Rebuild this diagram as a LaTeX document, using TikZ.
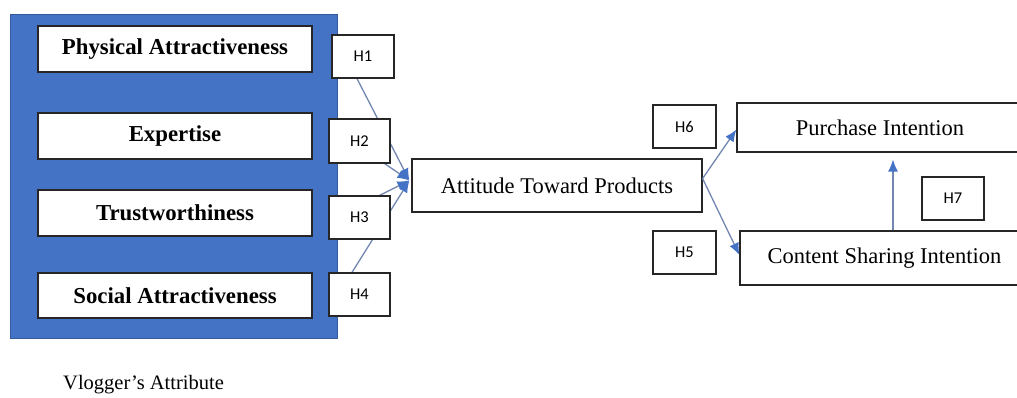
\documentclass[tikz,border=0pt]{standalone}
\usepackage{fontspec}
\setmainfont{Liberation Serif}
\newfontfamily\hfont{Carlito}
\usetikzlibrary{arrows.meta,backgrounds}
\definecolor{vblue}{HTML}{4472C4}
\definecolor{lnk}{HTML}{7186B0}
\begin{document}
\begin{tikzpicture}[x=1pt,y=-1pt,
  attrbox/.style={draw=black!85,line width=1.3pt,fill=white,minimum width=274pt,minimum height=46pt,inner sep=0pt,font=\fontsize{22.8}{24}\selectfont\bfseries},
  hbox/.style={draw=black!85,line width=1.2pt,fill=white,minimum width=61pt,minimum height=43pt,inner sep=0pt,font=\hfont\fontsize{16.5}{18}\selectfont},
  mainbox/.style={draw=black!85,line width=1.2pt,fill=white,inner sep=0pt,font=\fontsize{22.5}{24}\selectfont},
  link/.style={draw=lnk,line width=1.3pt,-{Latex[length=12pt,width=10pt,fill=vblue,color=vblue]}}]
\useasboundingbox (0,0) rectangle (1017,398);
\clip (0,0) rectangle (1017,398);
% blue group
\node[fill=vblue,draw=vblue!80!black,line width=0.6pt,minimum width=327pt,minimum height=324pt,inner sep=0pt] (grp) at (173.5,176) {};
\node[attrbox] (pa) at (175,49) {Physical Attractiveness};
\node[attrbox] (ex) at (175,136) {Expertise};
\node[attrbox] (tw) at (175,213) {Trustworthiness};
\node[attrbox,minimum height=45pt] (sa) at (175,295.5) {Social Attractiveness};
% hypothesis labels
\node[hbox,minimum width=62pt] (h1) at (363,56.5) {H1};
\node[hbox,minimum height=44pt] (h2) at (359.5,141) {H2};
\node[hbox] (h3) at (359.5,217.5) {H3};
\node[hbox] (h4) at (359.5,294.5) {H4};
% main constructs
\node[mainbox,minimum width=290pt,minimum height=53pt] (att) at (557,185.5) {Attitude Toward Products};
\node[hbox,minimum width=63pt] (h6) at (684.5,126.5) {H6};
\node[hbox,minimum width=63pt] (h5) at (684.5,252.5) {H5};
\node[mainbox,minimum width=286pt,minimum height=49pt] (pi) at (880,127.5) {Purchase Intention};
\node[mainbox,minimum width=289pt,minimum height=54pt] (cs) at (884.5,258) {Content Sharing Intention};
\node[hbox,minimum width=62pt] (h7) at (953,198.5) {H7};
\node[anchor=base west,inner sep=0pt,font=\fontsize{20.5}{23}\selectfont] (vl) at (63,389) {Vlogger’s Attribute};
% connectors
\coordinate (tip) at ([xshift=-2pt,yshift=5pt]att.west);
\coordinate (px) at (893,0);
\begin{pgfonlayer}{background}
\draw[link] ([xshift=-6pt]h1.south) -- (tip);
\draw[link] ([xshift=-6pt]h2.south east) -- (tip);
\draw[link] ([xshift=20pt]h3.north) -- (tip);
\draw[link] ([xshift=-7.5pt]h4.north) -- (tip);
\end{pgfonlayer}
\draw[link] ([yshift=7pt]att.east) -- ([yshift=-2pt]pi.west);
\draw[link] ([yshift=7pt]att.east) -- ([yshift=3pt]cs.west);
\draw[link,shorten >=7pt] (cs.north -| px) -- (pi.south -| px);
\end{tikzpicture}
\end{document}
